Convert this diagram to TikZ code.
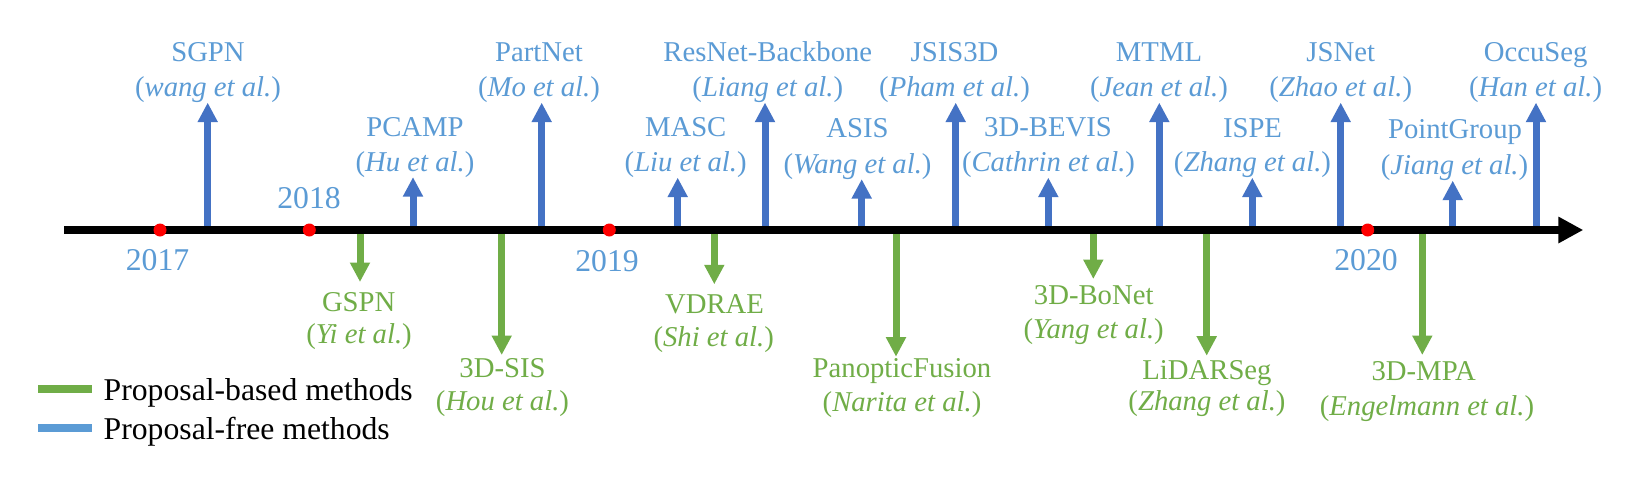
\documentclass[tikz,border=0pt]{standalone}
\usepackage{fontspec}
\setmainfont{Liberation Serif}
\usetikzlibrary{arrows.meta}
\definecolor{txtblue}{HTML}{5B9BD5}
\definecolor{arrblue}{HTML}{4472C4}
\definecolor{grn}{HTML}{70AD47}
\newcommand\lblfont{\fontsize{28.7}{34}\selectfont}
\newcommand\bigfont{\fontsize{31.7}{38}\selectfont}
\begin{document}
\begin{tikzpicture}[x=1pt,y=-1pt,
  bl/.style={text=txtblue,font=\lblfont,inner sep=0pt,outer sep=0pt,anchor=base},
  gl/.style={text=grn,font=\lblfont,inner sep=0pt,outer sep=0pt,anchor=base},
  yr/.style={text=txtblue,font=\bigfont,inner sep=0pt,anchor=base},
  legtext/.style={text=black,font=\bigfont,inner sep=0pt,anchor=base west},
  uparr/.style={draw=arrblue,line width=7pt,-{Triangle[width=19pt,length=19.5pt]}},
  dnarr/.style={draw=grn,line width=7pt,-{Triangle[width=19pt,length=19.5pt]}},
  axisline/.style={draw=black,line width=8pt,-{Triangle[width=25pt,length=25pt]}},
  legline/.style={line width=8pt},
  yeardot/.style={circle,fill=red,minimum size=13pt,inner sep=0pt}
]
\fill[white] (0,0) rectangle (1638,482);
\useasboundingbox (0,0) rectangle (1638,482);

% ---------- proposal-free (up, blue) ----------
\coordinate (sgpn-b) at (207.7,230);
\node[bl] (sgpn) at (208,61) {SGPN};
\node[bl] (sgpn-c) at (208,96.5) {(\textit{wang et al.})};
\draw[uparr] (sgpn-b) -- (sgpn-b |- sgpn-c.south);

\coordinate (pcamp-b) at (413,230);
\node[bl] (pcamp) at (415,136) {PCAMP};
\node[bl] (pcamp-c) at (415,171) {(\textit{Hu et al.})};
\draw[uparr] (pcamp-b) -- (pcamp-b |- pcamp-c.south);

\coordinate (partnet-b) at (541.7,230);
\node[bl] (partnet) at (539,61) {PartNet};
\node[bl] (partnet-c) at (539,96.5) {(\textit{Mo et al.})};
\draw[uparr] (partnet-b) -- (partnet-b |- partnet-c.south);

\coordinate (masc-b) at (677.7,230);
\node[bl] (masc) at (685.7,136) {MASC};
\node[bl] (masc-c) at (685.7,171.5) {(\textit{Liu et al.})};
\draw[uparr] (masc-b) -- (masc-b |- masc-c.south);

\coordinate (resnet-b) at (765,230);
\node[bl] (resnet) at (767.8,61) {ResNet-Backbone};
\node[bl] (resnet-c) at (767.8,96.5) {(\textit{Liang et al.})};
\draw[uparr] (resnet-b) -- (resnet-b |- resnet-c.south);

\coordinate (asis-b) at (861.7,230);
\node[bl] (asis) at (857.5,137.5) {ASIS};
\node[bl] (asis-c) at (857.5,173) {(\textit{Wang et al.})};
\draw[uparr] (asis-b) -- (asis-b |- asis-c.south);

\coordinate (jsis-b) at (955.7,230);
\node[bl] (jsis) at (954.5,61) {JSIS3D};
\node[bl] (jsis-c) at (954.5,96.5) {(\textit{Pham et al.})};
\draw[uparr] (jsis-b) -- (jsis-b |- jsis-c.south);

\coordinate (bevis-b) at (1048.3,230);
\node[bl] (bevis) at (1048,136) {3D-BEVIS};
\node[bl] (bevis-c) at (1048.5,171.5) {(\textit{Cathrin et al.})};
\draw[uparr] (bevis-b) -- (bevis-b |- bevis-c.south);

\coordinate (mtml-b) at (1159.3,230);
\node[bl] (mtml) at (1159,61) {MTML};
\node[bl] (mtml-c) at (1159,96.5) {(\textit{Jean et al.})};
\draw[uparr] (mtml-b) -- (mtml-b |- mtml-c.south);

\coordinate (ispe-b) at (1252.3,230);
\node[bl] (ispe) at (1252.5,137) {ISPE};
\node[bl] (ispe-c) at (1252.5,171.5) {(\textit{Zhang et al.})};
\draw[uparr] (ispe-b) -- (ispe-b |- ispe-c.south);

\coordinate (jsnet-b) at (1340.7,230);
\node[bl] (jsnet) at (1340.7,61) {JSNet};
\node[bl] (jsnet-c) at (1340.7,96.5) {(\textit{Zhao et al.})};
\draw[uparr] (jsnet-b) -- (jsnet-b |- jsnet-c.south);

\coordinate (pg-b) at (1452.7,230);
\node[bl] (pg) at (1455,138.5) {PointGroup};
\node[bl] (pg-c) at (1454.5,174.5) {(\textit{Jiang et al.})};
\draw[uparr] (pg-b) -- (pg-b |- pg-c.south);

\coordinate (occu-b) at (1536,230);
\node[bl] (occu) at (1535.6,61) {OccuSeg};
\node[bl] (occu-c) at (1535.6,96.5) {(\textit{Han et al.})};
\draw[uparr] (occu-b) -- (occu-b |- occu-c.south);

% ---------- proposal-based (down, green) ----------
\coordinate (gspn-b) at (360,230);
\coordinate (gspn-t) at (360,282);
\node[gl] (gspn) at (358.7,311) {GSPN};
\node[gl] (gspn-c) at (359,343.5) {(\textit{Yi et al.})};
\draw[dnarr] (gspn-b) -- (gspn-t);

\coordinate (sis-b) at (501.7,230);
\coordinate (sis-t) at (501.7,355);
\node[gl] (sis) at (502.5,377) {3D-SIS};
\node[gl] (sis-c) at (502.5,410) {(\textit{Hou et al.})};
\draw[dnarr] (sis-b) -- (sis-t);

\coordinate (vdrae-b) at (714.3,230);
\coordinate (vdrae-t) at (714.3,284.3);
\node[gl] (vdrae) at (714.5,313) {VDRAE};
\node[gl] (vdrae-c) at (713.7,346.7) {(\textit{Shi et al.})};
\draw[dnarr] (vdrae-b) -- (vdrae-t);

\coordinate (pf-b) at (896,230);
\coordinate (pf-t) at (896,356.7);
\node[gl] (pf) at (902,377.5) {PanopticFusion};
\node[gl] (pf-c) at (902,411.7) {(\textit{Narita et al.})};
\draw[dnarr] (pf-b) -- (pf-t);

\coordinate (bonet-b) at (1093.3,230);
\coordinate (bonet-t) at (1093.3,279);
\node[gl] (bonet) at (1093.7,304.5) {3D-BoNet};
\node[gl] (bonet-c) at (1093.7,338.5) {(\textit{Yang et al.})};
\draw[dnarr] (bonet-b) -- (bonet-t);

\coordinate (lidar-b) at (1206.7,230);
\coordinate (lidar-t) at (1206.7,355.7);
\node[gl] (lidar) at (1207,379) {LiDARSeg};
\node[gl] (lidar-c) at (1207,410.5) {(\textit{Zhang et al.})};
\draw[dnarr] (lidar-b) -- (lidar-t);

\coordinate (mpa-b) at (1422.3,230);
\coordinate (mpa-t) at (1422.3,355);
\node[gl] (mpa) at (1423.7,380.7) {3D-MPA};
\node[gl] (mpa-c) at (1427,415) {(\textit{Engelmann et al.})};
\draw[dnarr] (mpa-b) -- (mpa-t);

% ---------- axis ----------
\coordinate (ax0) at (64,230);
\coordinate (ax1) at (1583.3,230);
\draw[axisline] (ax0) -- (ax1);

\node[yeardot] (d2017) at (160,230) {};
\node[yeardot] (d2018) at (309.3,230) {};
\node[yeardot] (d2019) at (609.3,230) {};
\node[yeardot] (d2020) at (1367.7,230) {};

\node[yr] (y2017) at (157.5,270) {2017};
\node[yr] (y2018) at (309,208) {2018};
\node[yr] (y2019) at (607,271) {2019};
\node[yr] (y2020) at (1366,270) {2020};

% ---------- legend ----------
\coordinate (lg1a) at (38,389);
\coordinate (lg1b) at (92,389);
\draw[legline,draw=grn] (lg1a) -- (lg1b);
\node[legtext] (lg1) at (103.5,400) {Proposal-based methods};
\coordinate (lg2a) at (38,428);
\coordinate (lg2b) at (92,428);
\draw[legline,draw=txtblue] (lg2a) -- (lg2b);
\node[legtext] (lg2) at (103.5,439) {Proposal-free methods};
\end{tikzpicture}
\end{document}
